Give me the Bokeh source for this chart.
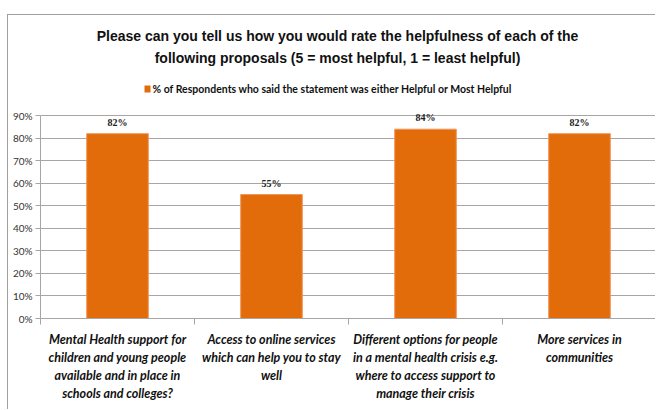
from bokeh.plotting import figure
from bokeh.models import (ColumnDataSource, FixedTicker, NumeralTickFormatter,
                          Label, LabelSet, BoxAnnotation)
from bokeh.embed import file_html
from bokeh.resources import INLINE

title_lines = ["Please can you tell us how you would rate the helpfulness of each of the",
               "following proposals (5 = most helpful, 1 = least helpful)"]
series_name = "% of Respondents who said the statement was either Helpful or Most Helpful"
categories = [
    "Mental Health support for\nchildren and young people\navailable and in place in\nschools and colleges?",
    "Access to online services\nwhich can help you to stay\nwell",
    "Different options for people\nin a mental health crisis e.g.\nwhere to access support to\nmanage their crisis",
    "More services in\ncommunities",
]
values = [0.82, 0.55, 0.84, 0.82]
value_labels = ["82%", "55%", "84%", "82%"]
y_ticks = [0.0, 0.1, 0.2, 0.3, 0.4, 0.5, 0.6, 0.7, 0.8, 0.9]

ORANGE = "#E36C0A"
GRID = "#A6A6A6"
CAT_FONT = "Lato"
TITLE_FONT = "Liberation Sans"

x_pos = [i + 0.5 for i in range(len(categories))]
src = ColumnDataSource(dict(x=x_pos, top=values, lab=value_labels))

p = figure(width=648, height=395, x_range=(0, len(categories)), y_range=(0, 1.3),
           output_backend="svg", toolbar_location=None,
           min_border_left=32, min_border_right=0, min_border_top=10, min_border_bottom=92)
p.margin = (14, 0, 0, 7)
p.styles = {"border-left": "1px solid #A0A0A0", "border-top": "1px solid #A0A0A0"}
p.outline_line_color = None
p.background_fill_color = "white"
p.border_fill_color = "white"

p.vbar(x="x", top="top", width=0.4, source=src, fill_color=ORANGE,
       line_color="#F0955A", line_width=1)

p.add_layout(LabelSet(x="x", y="top", text="lab", source=src, y_offset=6,
                      text_align="center", text_baseline="bottom",
                      text_font=CAT_FONT, text_font_style="bold",
                      text_font_size="10px", text_color="#222222"))

# x axis
p.xaxis.ticker = FixedTicker(ticks=x_pos, minor_ticks=list(range(len(categories) + 1)))
p.xaxis.major_label_overrides = {x: c for x, c in zip(x_pos, categories)}
p.xaxis.major_tick_line_color = None
p.xaxis.major_tick_out = 0
p.xaxis.major_tick_in = 0
p.xaxis.minor_tick_line_color = GRID
p.xaxis.minor_tick_out = 6
p.xaxis.minor_tick_in = 0
p.xaxis.axis_line_color = GRID
p.xaxis.major_label_text_font = CAT_FONT
p.xaxis.major_label_text_font_style = "bold italic"
p.xaxis.major_label_text_font_size = "12.5px"
p.xaxis.major_label_text_color = "#111111"
p.xaxis.major_label_standoff = 7
p.xgrid.grid_line_color = None

# y axis
p.yaxis.ticker = FixedTicker(ticks=y_ticks)
p.yaxis.bounds = (0, 0.9)
p.yaxis.formatter = NumeralTickFormatter(format="0%")
p.yaxis.axis_line_color = GRID
p.yaxis.major_tick_line_color = GRID
p.yaxis.major_tick_out = 5
p.yaxis.major_tick_in = 0
p.yaxis.minor_tick_line_color = None
p.yaxis.major_label_text_font = CAT_FONT
p.yaxis.major_label_text_font_size = "10px"
p.yaxis.major_label_text_color = "#333333"
p.yaxis.major_label_standoff = 3
p.ygrid.ticker = FixedTicker(ticks=y_ticks)
p.ygrid.grid_line_color = GRID

# titles (screen units relative to the plot frame, y measured upward)
for txt, yy in zip(title_lines, [283, 261]):
    p.add_layout(Label(x=297, y=yy, x_units="screen", y_units="screen", text=txt,
                       text_align="center", text_baseline="middle", text_font=TITLE_FONT,
                       text_font_style="bold", text_font_size="14px", text_color="#111111"))

# legend
p.add_layout(BoxAnnotation(left=104, right=110, top=233, bottom=226,
                           left_units="screen", right_units="screen",
                           top_units="screen", bottom_units="screen",
                           fill_color=ORANGE, fill_alpha=1, line_color=None))
p.add_layout(Label(x=112, y=229.5, x_units="screen", y_units="screen", text=series_name,
                   text_align="left", text_baseline="middle", text_font=CAT_FONT,
                   text_font_style="bold", text_font_size="10.5px", text_color="#111111"))

open("out.html", "w").write(file_html(p, INLINE))
